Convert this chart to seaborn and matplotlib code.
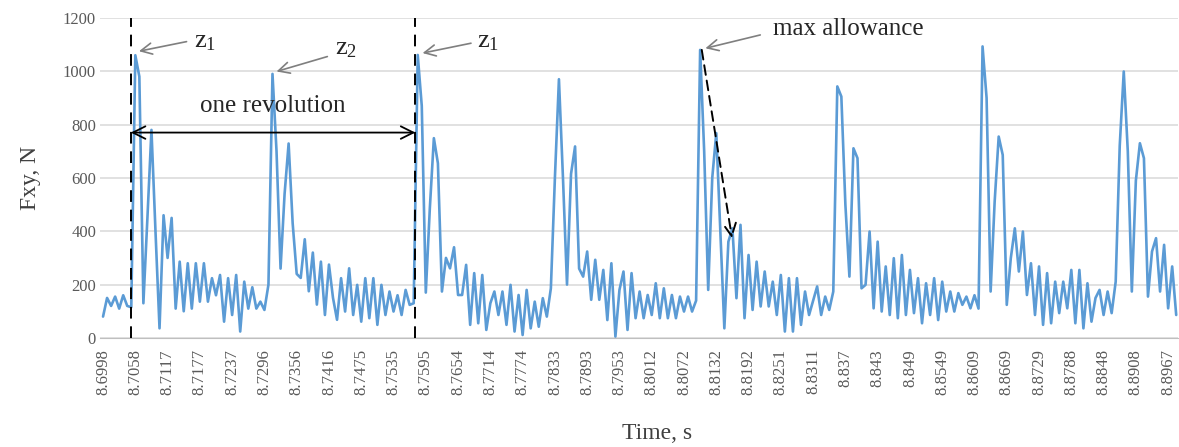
import numpy as np
import pandas as pd
import matplotlib
matplotlib.use('Agg')
import matplotlib.pyplot as plt
import seaborn as sns

# axis labels every 8 samples (Excel category axis)
TIME_LABELS = ['8.6998', '8.7058', '8.7117', '8.7177', '8.7237', '8.7296',
               '8.7356', '8.7416', '8.7475', '8.7535', '8.7595', '8.7654',
               '8.7714', '8.7774', '8.7833', '8.7893', '8.7953', '8.8012',
               '8.8072', '8.8132', '8.8192', '8.8251', '8.8311', '8.837',
               '8.843', '8.849', '8.8549', '8.8609', '8.8669', '8.8729',
               '8.8788', '8.8848', '8.8908', '8.8967']
LABEL_STEP = 8

# Fxy, N  (one value per sample)
FXY = [80, 150, 120, 155, 110, 160, 120, 115,
       1060, 980, 130, 450, 780, 400, 36, 460, 300, 450, 110, 286,
       100, 280, 110, 280, 136, 280, 136, 224, 160, 236, 61, 224,
       86, 236, 24, 211, 110, 190, 110, 136, 105, 200,
       990, 700, 260, 540, 729, 430, 240, 225, 370, 175, 320, 125,
       286, 86, 275, 150, 68, 224, 99, 261, 86, 199, 61, 224,
       74, 224, 49, 199, 86, 174, 99, 160, 86, 180, 124, 130,
       1061, 870, 170, 486, 749, 655, 174, 300, 261, 340, 161, 161,
       274, 49, 243, 55, 236, 30, 130, 174, 86, 174, 49, 199,
       24, 161, 11, 180, 36, 136, 42, 149, 80, 186, 600,
       970, 600, 200, 615, 718, 260, 230, 324, 143, 293, 143, 255,
       67, 280, 5, 180, 249, 30, 243, 74, 174, 74, 161, 86,
       205, 74, 186, 74, 161, 74, 155, 99, 155, 99, 140,
       1080, 700, 180, 600, 768, 400, 36, 361, 411, 149, 424, 74,
       311, 105, 286, 118, 249, 118, 211, 86, 236, 24, 224, 24,
       224, 49, 174, 86, 140, 193, 86, 155, 105, 174,
       943, 905, 500, 230, 711, 674, 186, 199, 399, 111, 361, 99,
       268, 86, 299, 74, 311, 86, 255, 93, 224, 55, 205, 86,
       224, 67, 211, 99, 174, 99, 168, 124, 155, 111, 160, 110,
       1093, 900, 174, 511, 755, 686, 124, 299, 411, 249, 399, 161,
       280, 86, 268, 49, 243, 55, 211, 93, 211, 111, 255, 55,
       255, 36, 205, 61, 150, 180, 86, 174, 93, 211, 720,
       999, 700, 174, 590, 730, 674, 155, 324, 374, 174, 349, 111,
       268, 86]

SERIF = ['Liberation Serif', 'DejaVu Serif']
LINE_BLUE = '#5b9bd5'
TXT = '#404040'
TICK_TXT = '#595959'

sns.set_style('white')
plt.rcParams['font.family'] = SERIF

df = pd.DataFrame({'sample': np.arange(len(FXY)), 'fxy': FXY})

fig = plt.figure(figsize=(11.79, 4.47), dpi=100)
ax = fig.add_axes([0.085, 0.244, 0.914, 0.716])

ax.yaxis.grid(True, color='#d9d9d9', lw=1.1)
ax.set_axisbelow(True)
sns.lineplot(data=df, x='sample', y='fxy', color=LINE_BLUE, lw=1.9, ax=ax)

ax.set_xlim(-0.7, len(FXY) - 0.6)
ax.set_ylim(0, 1200)
ax.set_yticks(np.arange(0, 1201, 200))
ax.set_xticks(np.arange(len(TIME_LABELS)) * LABEL_STEP)
ax.set_xticklabels(TIME_LABELS, rotation=90)
ax.tick_params(axis='both', length=0, labelsize=12, labelcolor=TICK_TXT)
ax.tick_params(axis='x', pad=8)
ax.tick_params(axis='y', pad=3)

for side in ['top', 'right', 'left']:
    ax.spines[side].set_visible(False)
ax.spines['bottom'].set_color('#bfbfbf')

ax.set_xlabel('Time, s', fontsize=17, color=TXT)
ax.set_ylabel('Fxy, N', fontsize=17, color=TXT)
ax.xaxis.set_label_coords(0.517, -0.265)
ax.yaxis.set_label_coords(-0.055, 0.5)

# one revolution markers
rev_start, rev_end = 6.9, 77.4
for xv in (rev_start, rev_end):
    ax.axvline(xv, color='black', lw=1.4, ls=(0, (6, 4)), zorder=3)
ax.annotate('', xy=(rev_start, 770), xytext=(rev_end, 770),
            arrowprops=dict(arrowstyle='<->,head_length=0.9,head_width=0.45',
                            color='black', lw=1.3, shrinkA=0, shrinkB=0))
ax.text((rev_start + rev_end) / 2, 870, 'one revolution', ha='center',
        va='center', fontsize=18, color='#262626')

# peak labels
grey_arrow = dict(arrowstyle='->,head_length=0.8,head_width=0.4',
                  color='#7f7f7f', lw=1.2, shrinkA=0, shrinkB=0)
ax.annotate('', xy=(8.9, 1075), xytext=(20.7, 1111), arrowprops=grey_arrow)
ax.text(22.6, 1110, r'$\mathregular{z_1}$', fontsize=19, va='center', color='#262626')
ax.annotate('', xy=(43.0, 999), xytext=(55.6, 1055), arrowprops=grey_arrow)
ax.text(57.5, 1085, r'$\mathregular{z_2}$', fontsize=19, va='center', color='#262626')
ax.annotate('', xy=(79.2, 1068), xytext=(91.2, 1105), arrowprops=grey_arrow)
ax.text(92.6, 1108, r'$\mathregular{z_1}$', fontsize=19, va='center', color='#262626')
ax.annotate('', xy=(149.3, 1086), xytext=(162.9, 1136), arrowprops=grey_arrow)
ax.text(166.0, 1158, 'max allowance', fontsize=18, va='center', color='#262626')

# allowance drop
ax.annotate('', xy=(155.9, 374), xytext=(148.4, 1080),
            arrowprops=dict(arrowstyle='->,head_length=0.9,head_width=0.45',
                            color='black', lw=1.4, ls=(0, (5, 3)),
                            shrinkA=0, shrinkB=0))

plt.savefig('out.png', dpi=100)
